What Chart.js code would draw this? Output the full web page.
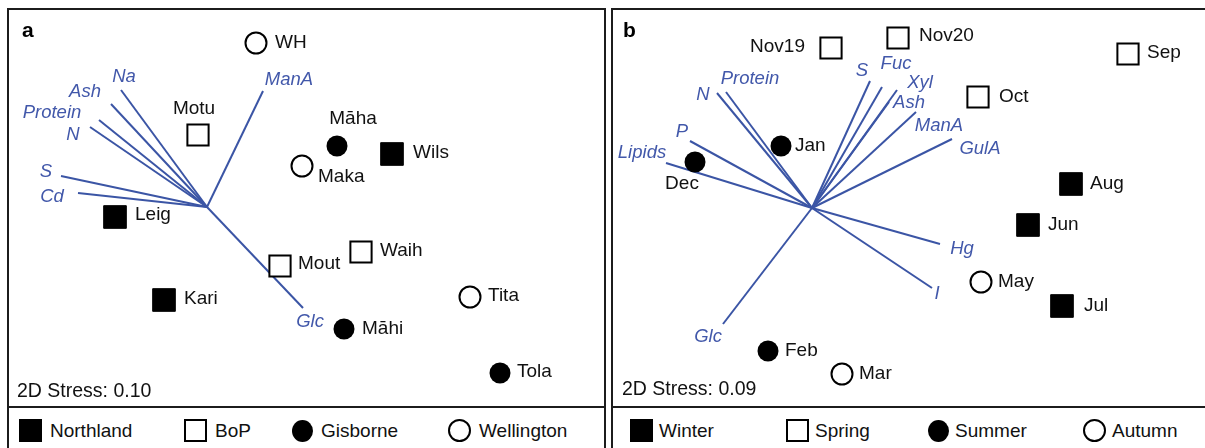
<!DOCTYPE html>
<html>
<head>
<meta charset="utf-8">
<script src="https://cdn.jsdelivr.net/npm/chart.js@4.4.1/dist/chart.umd.min.js"></script>
<style>
  html, body { margin: 0; padding: 0; background: #fff; overflow: hidden; }
  body { width: 1205px; height: 448px; position: relative; font-family: "Liberation Sans", Arial, sans-serif; }
  .panel { position: absolute; top: 8px; height: 470px; border: 2px solid #1c1c1c; box-sizing: border-box; }
  .plot { position: relative; height: 396px; }
  .legend { position: relative; border-top: 2px solid #1c1c1c; height: 70px; }
  .item { position: absolute; top: 11px; height: 23px; display: flex; align-items: center; font-size: 19px; color: #111; white-space: nowrap; }
  .shape { box-sizing: border-box; flex: none; }
  .s0 { width: 23px; height: 23px; background: #000; }
  .s1 { width: 23px; height: 23px; border: 2px solid #000; background: #fff; }
  .s2 { width: 21px; height: 22px; border-radius: 50%; background: #000; }
  .s3 { width: 23px; height: 23px; border-radius: 50%; border: 2px solid #000; background: #fff; }
</style>
</head>
<body>
<div class="panel" style="left:7px; width:599px;">
  <div class="plot"><canvas id="chartA"></canvas></div>
  <div class="legend" id="legendA"></div>
</div>
<div class="panel" style="left:611px; width:600px;">
  <div class="plot"><canvas id="chartB"></canvas></div>
  <div class="legend" id="legendB"></div>
</div>
<script>
// panel a: sites by region (nMDS coordinates)
const regionsA = ['Northland', 'BoP', 'Gisborne', 'Wellington'];
const sitesA = [['Leig', 'Kari', 'Wils'], ['Motu', 'Mout', 'Waih'], ['Māha', 'Māhi', 'Tola'], ['WH', 'Maka', 'Tita']];
const siteXA = [[-0.92, -0.43, 1.85], [-0.09, 0.73, 1.54], [1.30, 1.37, 2.93], [0.49, 0.95, 2.63]];
const siteYA = [[-0.10, -0.93, 0.53], [0.72, -0.59, -0.45], [0.61, -1.22, -1.66], [1.64, 0.41, -0.90]];
const vecNamesA = ['Na', 'Ash', 'Protein', 'N', 'S', 'Cd', 'ManA', 'Glc'];
const vecXA = [-0.86, -0.96, -1.08, -1.17, -1.46, -1.29, 0.56, 0.96];
const vecYA = [1.17, 1.03, 0.87, 0.80, 0.31, 0.14, 1.16, -1.01];
const stressA = '0.10';

// panel b: months by season
const seasonsB = ['Winter', 'Spring', 'Summer', 'Autumn'];
const monthsB = [['Aug', 'Jun', 'Jul'], ['Nov19', 'Nov20', 'Sep', 'Oct'], ['Jan', 'Dec', 'Feb'], ['May', 'Mar']];
const monthXB = [[2.59, 2.16, 2.50], [0.19, 0.86, 3.16, 1.66], [-0.31, -1.17, -0.44], [1.69, 0.30]];
const monthYB = [[0.24, -0.17, -0.98], [1.60, 1.70, 1.54, 1.11], [0.62, 0.46, -1.43], [-0.74, -1.66]];
const vecNamesB = ['N', 'Protein', 'P', 'Lipids', 'S', 'Fuc', 'Xyl', 'Ash', 'ManA', 'GulA', 'Hg', 'I', 'Glc'];
const vecXB = [-0.95, -0.86, -1.22, -1.46, 0.58, 0.70, 0.85, 0.77, 1.04, 1.40, 1.28, 1.20, -0.89];
const vecYB = [1.15, 1.16, 0.67, 0.45, 1.27, 1.21, 1.18, 1.06, 0.96, 0.69, -0.36, -0.80, -1.16];
const stressB = '0.09';

const BLUE = '#3b55a5';
const FONT = '"Liberation Sans", Arial, sans-serif';

// marker look per group: filled square, open square, filled circle, open circle
const markers = [
    {style: 'rect', r: 16, bg: '#000', bw: 1},
    {style: 'rect', r: 15, bg: '#fff', bw: 2},
    {style: 'circle', r: 10.5, bg: '#000', bw: 0},
    {style: 'circle', r: 10.5, bg: '#fff', bw: 2}
];

// label placement, pixel offsets [dx, dy, align]
const labelPosA = {
    'WH': [19, 0, 'left'], 'Motu': [-4, -26, 'center'], 'Māha': [16, -27, 'center'],
    'Maka': [16, 11, 'left'], 'Wils': [21, -1, 'left'], 'Leig': [20, -2, 'left'],
    'Mout': [18, -2, 'left'], 'Waih': [19, -1, 'left'], 'Kari': [20, -1, 'left'],
    'Tita': [18, -1, 'left'], 'Māhi': [18, 0, 'left'], 'Tola': [17, -1, 'left']
};
const vecPosA = {
    'Na': [3, -13], 'Ash': [-26, -12], 'Protein': [-47, -7], 'N': [-17, 8],
    'S': [-15, -4], 'Cd': [-26, 4], 'ManA': [26, -11], 'Glc': [7, 14]
};
const labelPosB = {
    'Nov19': [-26, -1, 'right'], 'Nov20': [21, -2, 'left'], 'Sep': [19, -1, 'left'],
    'Oct': [21, 0, 'left'], 'Jan': [14, 0, 'left'], 'Dec': [-13, 22, 'center'],
    'Aug': [19, 0, 'left'], 'Jun': [20, 0, 'left'], 'May': [17, 0, 'left'],
    'Jul': [22, 0, 'left'], 'Feb': [17, 0, 'left'], 'Mar': [17, 0, 'left']
};
const vecPosB = {
    'N': [-14, 2], 'Protein': [24, -13], 'P': [-8, -9], 'Lipids': [-24, -10],
    'S': [-8, -10], 'Fuc': [14, -23], 'Xyl': [23, -7], 'Ash': [20, 1],
    'ManA': [23, 14], 'GulA': [28, 10], 'Hg': [22, 5], 'I': [5, 6], 'Glc': [-15, 13]
};

function labelPlugin(letter, stress, pointPos, vecPos, letterX, stressX, stressY) {
    return {
        id: 'ordLabels',
        afterDatasetsDraw(chart) {
            const ctx = chart.ctx;
            const area = chart.chartArea;
            ctx.save();
            ctx.textBaseline = 'middle';
            chart.data.datasets.forEach((ds, i) => {
                const meta = chart.getDatasetMeta(i);
                if (ds.kind === 'group') {
                    ctx.font = '19px ' + FONT;
                    ctx.fillStyle = '#111';
                    meta.data.forEach((pt, j) => {
                        const name = ds.names[j];
                        const p = pointPos[name] || [18, 0, 'left'];
                        ctx.textAlign = p[2];
                        ctx.fillText(name, pt.x + p[0], pt.y + p[1]);
                    });
                } else if (ds.kind === 'vector') {
                    const end = meta.data[1];
                    const p = vecPos[ds.label] || [0, -12];
                    ctx.font = 'italic 18.5px ' + FONT;
                    ctx.fillStyle = '#4258aa';
                    ctx.textAlign = 'center';
                    ctx.fillText(ds.label, end.x + p[0], end.y + p[1]);
                }
            });
            ctx.fillStyle = '#000';
            ctx.textAlign = 'left';
            ctx.textBaseline = 'alphabetic';
            ctx.font = 'bold 21px ' + FONT;
            ctx.fillText(letter, area.left + letterX, area.top + 27);
            ctx.textBaseline = 'middle';
            ctx.font = '19.5px ' + FONT;
            ctx.fillStyle = '#111';
            ctx.fillText('2D Stress: ' + stress, area.left + stressX, area.top + stressY);
            ctx.restore();
        }
    };
}

function ordChart(id, groups, names, xs, ys, vNames, vx, vy, xRange, yRange, plugin) {
    const datasets = [];
    groups.forEach((g, gi) => {
        const m = markers[gi];
        datasets.push({
            label: g,
            kind: 'group',
            names: names[gi],
            data: names[gi].map((n, j) => ({x: xs[gi][j], y: ys[gi][j]})),
            pointStyle: m.style,
            pointRadius: m.r,
            backgroundColor: m.bg,
            borderColor: '#000',
            borderWidth: m.bw,
            order: 0
        });
    });
    vNames.forEach((n, k) => {
        datasets.push({
            label: n,
            kind: 'vector',
            data: [{x: 0, y: 0}, {x: vx[k], y: vy[k]}],
            showLine: true,
            borderColor: BLUE,
            borderWidth: 2,
            pointRadius: 0,
            order: 1
        });
    });
    const config = {
        type: 'scatter',
        data: {datasets: datasets},
        options: {
            responsive: true,
            maintainAspectRatio: false,
            animation: false,
            events: [],
            layout: {padding: 0, autoPadding: false},
            scales: {
                x: {type: 'linear', min: xRange[0], max: xRange[1], display: false},
                y: {type: 'linear', min: yRange[0], max: yRange[1], display: false}
            },
            plugins: {legend: {display: false}, tooltip: {enabled: false}}
        },
        plugins: [plugin]
    };
    let ctx = document.getElementById(id).getContext('2d');
    new Chart(ctx, config);
}

function htmlLegend(id, groups, lefts, gap) {
    const el = document.getElementById(id);
    groups.forEach((g, gi) => {
        const item = document.createElement('div');
        item.className = 'item';
        item.style.left = lefts[gi] + 'px';
        const s = document.createElement('span');
        s.className = 'shape s' + gi;
        const t = document.createElement('span');
        t.textContent = g;
        t.style.marginLeft = gap + 'px';
        item.appendChild(s);
        item.appendChild(t);
        el.appendChild(item);
    });
}

ordChart('chartA', regionsA, sitesA, siteXA, siteYA, vecNamesA, vecXA, vecYA,
    [-1.98, 3.97], [-1.99, 1.97], labelPlugin('a', stressA, labelPosA, vecPosA, 13, 8, 382));
ordChart('chartB', seasonsB, monthsB, monthXB, monthYB, vecNamesB, vecXB, vecYB,
    [-1.99, 3.97], [-1.98, 1.98], labelPlugin('b', stressB, labelPosB, vecPosB, 10, 9, 380));
htmlLegend('legendA', regionsA, [10, 175, 283, 439], 8);
htmlLegend('legendB', seasonsB, [17, 173, 315, 470], 6);
</script>
</body>
</html>
